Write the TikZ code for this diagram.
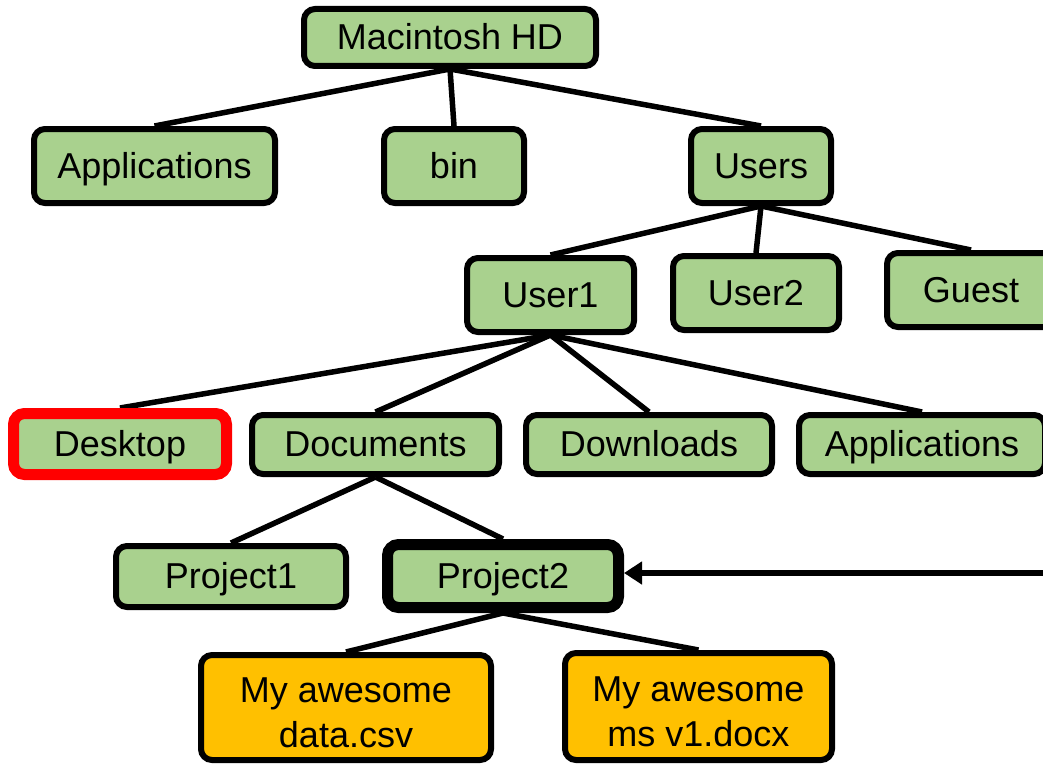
\documentclass[tikz,border=0pt]{standalone}
\usepackage{fontspec}
\setmainfont{Liberation Sans}
\usetikzlibrary{arrows.meta}
\pgfdeclarelayer{background}
\pgfsetlayers{background,main}
\definecolor{leaf}{HTML}{A9D18E}
\definecolor{filefill}{HTML}{FFC000}
\definecolor{hilite}{HTML}{FF0000}
% taller first line, so the two-line labels sit a little lower
\newcommand{\tallstrut}{\rule{0pt}{36pt}}

\begin{document}
\begin{tikzpicture}[x=1pt,y=-1pt,
  every node/.style={font=\fontsize{36pt}{45pt}\selectfont},
  folder/.style={draw=black, line width=6pt, fill=leaf, rounded corners=11pt,
    inner sep=0pt, text height=24pt, text depth=0pt},
  filebox/.style={draw=black, line width=6pt, fill=filefill, rounded corners=11pt,
    inner sep=0pt, align=center},
  link/.style={line width=5.5pt}
]
\useasboundingbox (0,0) rectangle (1043,765);
\clip (0,0) rectangle (1043,765);

% level 0 and 1
\node[folder, minimum width=292pt, minimum height=57pt] (hd) at (450,37.5) {Macintosh HD};
\node[folder, minimum width=241pt, minimum height=74pt] (apps) at (154.5,166) {Applications};
\node[folder, minimum width=140pt, minimum height=74pt] (bin) at (454,166) {bin};
\node[folder, minimum width=140pt, minimum height=74pt] (users) at (761,166) {Users};

% users
\node[folder, minimum width=167pt, minimum height=74pt] (u1) at (550.5,295) {User1};
\node[folder, minimum width=166pt, minimum height=74pt] (u2) at (756,293) {User2};
\node[folder, minimum width=168pt, minimum height=74pt] (guest) at (971,290) {Guest};

% home folders
\node[folder, draw=hilite, line width=11pt, minimum width=213pt, minimum height=61pt] (desk) at (120,444) {Desktop};
\node[folder, minimum width=247pt, minimum height=59pt] (docs) at (375.5,444.5) {Documents};
\node[folder, minimum width=246pt, minimum height=59pt] (down) at (649,444.5) {Downloads};
\node[folder, minimum width=246pt, minimum height=59pt] (uapps) at (922,444.5) {Applications};

% projects
\node[folder, minimum width=230pt, minimum height=61pt] (p1) at (231,576.5) {Project1};
\node[folder, line width=11pt, minimum width=231pt, minimum height=63pt] (p2) at (503,576) {Project2};

% files
\node[filebox, minimum width=290pt, minimum height=105pt] (csv) at (346,707.5) {\tallstrut My awesome\\data.csv};
\node[filebox, minimum width=267pt, minimum height=107pt] (docx) at (698.5,706.5) {\tallstrut My awesome\\ms v1.docx};

% tree edges
\begin{pgfonlayer}{background}
  \foreach \a/\b in {hd/apps, hd/bin, hd/users,
                     users/u1, users/u2, users/guest,
                     u1/desk, u1/docs, u1/down, u1/uapps,
                     docs/p1, docs/p2,
                     p2/csv, p2/docx}
    \draw[link] (\a.south) -- (\b.north);
\end{pgfonlayer}

% pointer to the current folder
\coordinate (src) at (1050,573);
\draw[line width=6pt, -{Triangle[length=18pt,width=22pt]}] (src) -- (src -| p2.east);
\end{tikzpicture}
\end{document}
